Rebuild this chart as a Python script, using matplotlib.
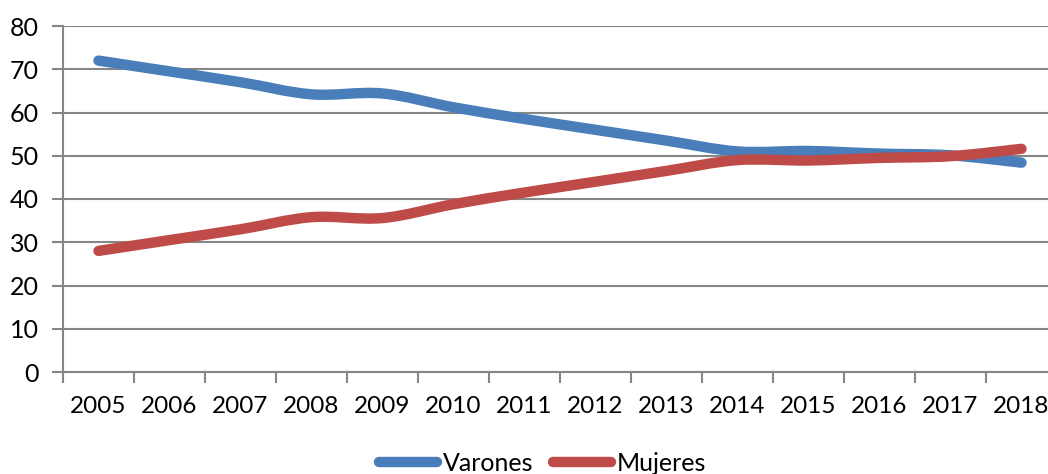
import matplotlib
matplotlib.use("Agg")
import matplotlib.pyplot as plt
from matplotlib.path import Path
from matplotlib.patches import PathPatch
from matplotlib.lines import Line2D
import numpy as np

years = ["2005", "2006", "2007", "2008", "2009", "2010", "2011",
         "2012", "2013", "2014", "2015", "2016", "2017", "2018"]
mujeres = [28.0, 30.5, 33.0, 35.8, 35.6, 38.8, 41.5,
           44.0, 46.5, 49.0, 48.9, 49.5, 49.9, 51.6]
varones = [72.0, 69.5, 67.0, 64.2, 64.4, 61.2, 58.5,
           56.0, 53.5, 51.0, 51.1, 50.5, 50.1, 48.4]

BLUE = "#4A7EBB"
RED = "#BE4B48"
GRID = "#868686"
FS = 18

plt.rcParams['font.family'] = ['Lato', 'DejaVu Sans']


def smooth_path(xs, ys):
    # Excel-like smoothed line: Catmull-Rom segments as cubic Beziers
    pts = np.column_stack([xs, ys]).astype(float)
    verts = [pts[0]]
    codes = [Path.MOVETO]
    n = len(pts)
    for i in range(n - 1):
        p0 = pts[i - 1] if i > 0 else pts[i]
        p1 = pts[i]
        p2 = pts[i + 1]
        p3 = pts[i + 2] if i + 2 < n else pts[i + 1]
        c1 = p1 + (p2 - p0) / 6.0
        c2 = p2 - (p3 - p1) / 6.0
        verts += [c1, c2, p2]
        codes += [Path.CURVE4] * 3
    return Path(verts, codes)


fig = plt.figure(figsize=(10.48, 4.74), dpi=100)
ax = fig.add_axes([63 / 1048, 102 / 474, 994 / 1048, 346 / 474])

x = np.arange(len(years))
for vals, col in [(varones, BLUE), (mujeres, RED)]:
    ax.add_patch(PathPatch(smooth_path(x, vals), facecolor="none",
                           edgecolor=col, lw=7.5, capstyle="round",
                           joinstyle="round", zorder=3))

ax.set_xlim(-0.5, len(years) - 0.5)
ax.set_ylim(0, 80)
ax.set_yticks(range(0, 81, 10))
ax.yaxis.grid(True, color=GRID, lw=1.5)
ax.set_axisbelow(True)

ax.set_xticks(np.arange(len(years) + 1) - 0.5)
ax.set_xticklabels([])
ax.set_xticks(x, minor=True)
ax.set_xticklabels(years, minor=True)
ax.tick_params(axis="x", which="major", length=8, width=1.5, color=GRID,
               direction="out")
ax.tick_params(axis="x", which="minor", length=0, pad=17, labelsize=17.5)
ax.tick_params(axis="y", length=8, width=1.5, color=GRID, pad=9.5,
               labelsize=FS)

for side in ["top", "right"]:
    ax.spines[side].set_visible(False)
for side in ["left", "bottom"]:
    ax.spines[side].set_color(GRID)
    ax.spines[side].set_linewidth(1.5)

handles = [Line2D([], [], color=BLUE, lw=7.5, solid_capstyle="round"),
           Line2D([], [], color=RED, lw=7.5, solid_capstyle="round")]
fig.legend(handles, ["Varones", "Mujeres"], loc="lower center",
           bbox_to_anchor=(0.518, -0.05), ncol=2, frameon=False,
           fontsize=FS, handlelength=2.3, handletextpad=0.25,
           columnspacing=0.8)

fig.savefig("out.png", dpi=100)
